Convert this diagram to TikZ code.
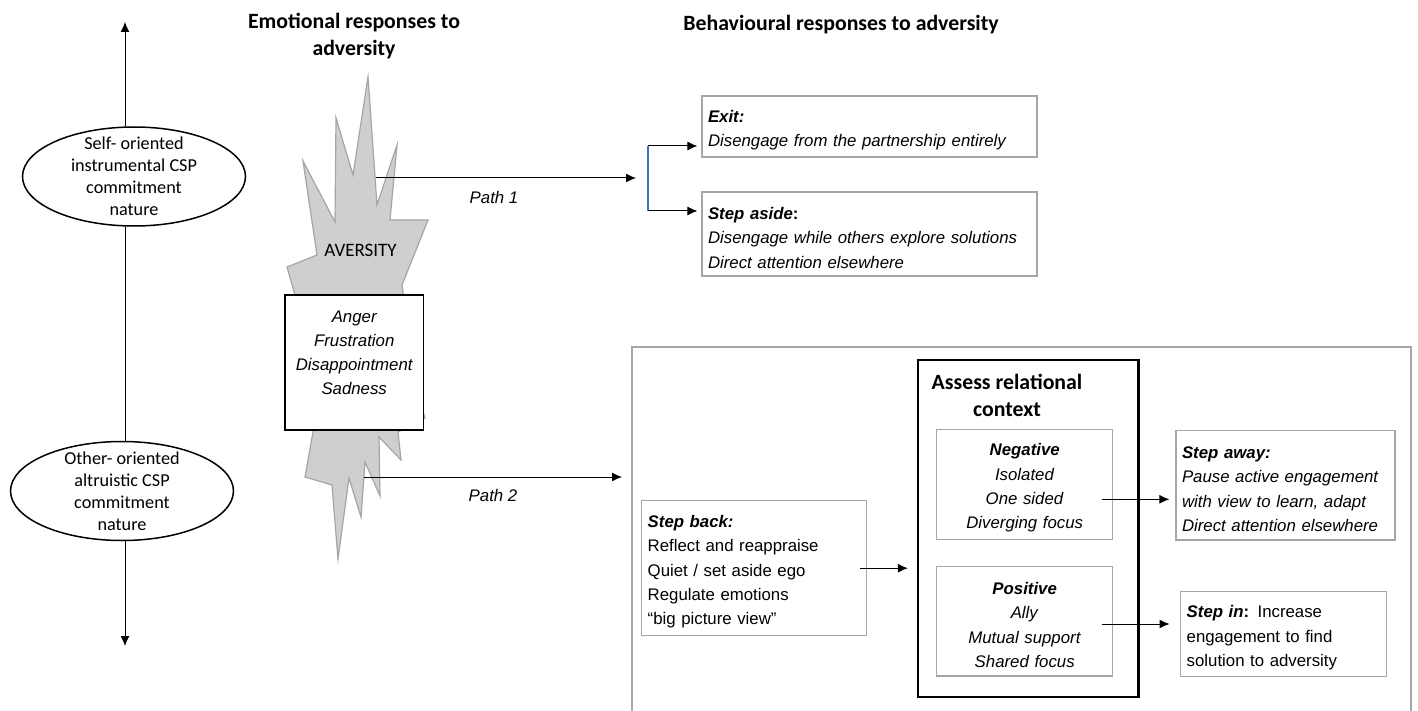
\documentclass[tikz,border=0pt]{standalone}
\usepackage{fontspec}
\setmainfont{Liberation Sans}
\newfontfamily\calibri{Carlito}
\usetikzlibrary{shapes.geometric,arrows.meta}
\definecolor{boxgray}{HTML}{A6A6A6}
\definecolor{flame}{HTML}{D0CFD0}
\definecolor{flameedge}{HTML}{A5A5A5}
\definecolor{linkblue}{HTML}{4472C4}
\newcommand{\toppad}{\rule{0pt}{9.8pt}}
\begin{document}
\begin{tikzpicture}[x=0.5pt,y=-0.5pt,
  body/.style={font=\fontsize{8.4}{12.15}\selectfont},
  gbox/.style={draw=boxgray, line width=0.6pt, inner xsep=3pt, inner ysep=0pt, body, align=left},
  cbox/.style={draw=boxgray, line width=0.6pt, inner xsep=3pt, inner ysep=0pt, body, align=center},
  arr/.style={-{Latex[length=5pt,width=4.5pt]}, line width=0.5pt},
  ell/.style={ellipse, draw, line width=0.75pt, inner sep=0pt, minimum width=111.5pt, minimum height=49.5pt},
  elltext/.style={font=\calibri\fontsize{9.1}{11}\selectfont, align=center, inner sep=0pt},
  head/.style={font=\calibri\bfseries\fontsize{10.9}{13.5}\selectfont, align=center, inner sep=0pt},
]
\useasboundingbox (0,0) rectangle (1418,711);

% axis with ellipses
\coordinate (axtop) at (125,22);
\coordinate (axbot) at (125,646);
\node[ell] (e1) at (134,176.5) {};
\node[elltext] (e1t) at (e1) {Self- oriented\\instrumental CSP\\commitment\\nature};
\node[ell] (e2) at (122,491) {};
\node[elltext] (e2t) at (e2) {Other- oriented\\altruistic CSP\\commitment\\nature};
\draw[arr] (e1.north -| axtop) -- (axtop);
\draw[line width=0.5pt] (e1.south -| axtop) -- (e2.north -| axtop);
\draw[arr] (e2.south -| axtop) -- (axbot);

% headings
\node[head] (hemo) at (354,36) {Emotional responses to\\adversity};
\node[head] (hbeh) at (841,25) {Behavioural responses to adversity};

% adversity flame
\draw[fill=flame, draw=flameedge, line width=0.6pt]
  (305,477) -- (313,432) -- (295,295) -- (287,267) -- (317,255) -- (303,161)
  -- (335,222) -- (336,118) -- (353,175) -- (368,77) -- (377,205) -- (397,145)
  -- (390,220) -- (428,220) -- (402,285) -- (418,395) -- (425,418) -- (398,432)
  -- (401,460) -- (379,437) -- (380,496) -- (365,462) -- (361,517) -- (349,478)
  -- (338,559) -- (332,485) -- cycle;
\node[font=\calibri\fontsize{9.5}{11}\selectfont, inner sep=0pt] (aver) at (360.5,250) {AVERSITY};
\node[draw, line width=0.6pt, fill=white, minimum width=69.2pt, minimum height=67.5pt,
      inner sep=0pt, body, align=center] (emo) at (354.2,362.5)
  {\rule{0pt}{11.8pt}\itshape Anger\\\itshape Frustration\\\itshape Disappointment\\\itshape Sadness\\\strut};

% path 1
\coordinate (p1s) at (376,178);
\coordinate (p1e) at (636,178);
\draw[arr] (p1s) -- (p1e);
\node[body, inner sep=0pt] (path1) at (494,197) {\itshape Path 1};
\coordinate (b1) at (648,146);
\coordinate (b2) at (648,211);
\draw[linkblue, line width=0.6pt] (b1) -- (b2);

\node[gbox, text width=161.5pt, minimum width=167.5pt, minimum height=30.5pt] (exit) at (869.5,126.5)
  {\toppad\textbf{\textit{Exit:}}\\\textit{Disengage from the partnership entirely}};
\node[gbox, text width=161.5pt, minimum width=167.5pt, minimum height=42pt] (aside) at (869.5,234)
  {\toppad\textbf{\textit{Step aside}:}\\\textit{Disengage while others explore solutions}\\\textit{Direct attention elsewhere}};
\draw[arr, shorten >=2pt] (b1) -- (exit.west |- b1);
\draw[arr, shorten >=2pt] (b2) -- (aside.west |- b2);

% path 2
\coordinate (p2s) at (364,477);
\coordinate (p2e) at (622,477);
\draw[arr] (p2s) -- (p2e);
\node[body, inner sep=0pt] (path2) at (493,495) {\itshape Path 2};

% large container (open at the bottom)
\draw[draw=boxgray, line width=0.6pt] (632,711) |- (1411,347) -- (1411,711);

\node[gbox, text width=106.5pt, minimum width=112.5pt, minimum height=67.5pt] (sb) at (754.2,568.2)
  {\toppad\textbf{\textit{Step back:}}\\Reflect and reappraise\\Quiet / set aside ego\\Regulate emotions\\“big picture view”};

\node[draw, line width=1.1pt, minimum width=110.2pt, minimum height=168.3pt, inner sep=0pt] (assess) at (1028.2,528.3) {};
\node[head] (assesst) at (1007,395) {Assess relational\\context};

\node[cbox, text width=82pt, minimum width=88pt, minimum height=55pt] (neg) at (1024.7,484.3)
  {\toppad\textbf{\textit{Negative}}\\\textit{Isolated}\\\textit{One sided}\\\textit{Diverging focus}};
\node[cbox, text width=82pt, minimum width=88pt, minimum height=54.7pt] (pos) at (1024.7,621.3)
  {\toppad\textbf{\textit{Positive}}\\\textit{Ally}\\\textit{Mutual support}\\\textit{Shared focus}};

\node[gbox, text width=103.5pt, minimum width=109.5pt, minimum height=54.7pt] (away) at (1285.5,485.3)
  {\toppad\textbf{\textit{Step away:}}\\\textit{Pause active engagement}\\\textit{with view to learn, adapt}\\\textit{Direct attention elsewhere}};
\node[gbox, text width=97pt, minimum width=103pt, minimum height=42.5pt] (stepin) at (1283.7,634.2)
  {\toppad\textbf{\textit{Step in}:} Increase\\engagement to find\\solution to adversity};

\draw[arr, shorten >=4.5pt] ([xshift=-3.5pt]sb.east) -- (sb.east -| assess.west);
\draw[arr, shorten >=3pt] ([xshift=-5.5pt,yshift=-7.5pt]neg.east) -- ([yshift=-7.5pt]neg.east -| away.west);
\draw[arr, shorten >=5.3pt] ([xshift=-5.5pt,yshift=-1.35pt]pos.east) -- ([yshift=-1.35pt]pos.east -| stepin.west);
\end{tikzpicture}
\end{document}
